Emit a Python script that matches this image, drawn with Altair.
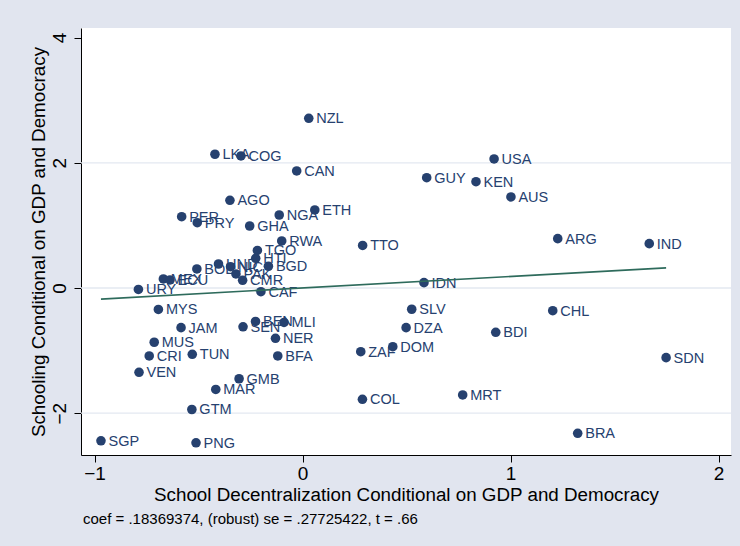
import altair as alt
import pandas as pd

# Country codes and added-variable residuals
countries = ["NZL", "LKA", "COG", "CAN", "USA", "GUY", "KEN", "AUS", "AGO", "PER",
             "PRY", "NGA", "ETH", "GHA", "RWA", "TTO", "ARG", "IND", "TGO", "HTI",
             "BGD", "BOL", "HND", "NIC", "PAK", "CMR", "MEX", "ECU", "URY", "CAF",
             "IDN", "MYS", "JAM", "MUS", "CRI", "TUN", "VEN", "SEN", "BEN", "MLI",
             "NER", "BFA", "GMB", "MAR", "GTM", "SGP", "PNG", "SLV", "DZA", "DOM",
             "ZAF", "BDI", "CHL", "SDN", "COL", "MRT", "BRA"]
decentralization = [0.030, -0.421, -0.296, -0.028, 0.921, 0.597, 0.834, 1.002, -0.349, -0.581,
                    -0.506, -0.112, 0.059, -0.254, -0.100, 0.289, 1.227, 1.667, -0.217, -0.225,
                    -0.164, -0.508, -0.404, -0.346, -0.320, -0.288, -0.669, -0.637, -0.789, -0.200,
                    0.584, -0.693, -0.584, -0.713, -0.737, -0.530, -0.786, -0.286, -0.226, -0.089,
                    -0.130, -0.119, -0.305, -0.417, -0.532, -0.969, -0.512, 0.525, 0.498, 0.434,
                    0.280, 0.929, 1.203, 1.748, 0.288, 0.770, 1.323]
schooling = [2.711, 2.136, 2.109, 1.869, 2.061, 1.762, 1.698, 1.454, 1.401, 1.139,
             1.043, 1.166, 1.246, 0.990, 0.751, 0.679, 0.788, 0.708, 0.599, 0.474,
             0.347, 0.304, 0.383, 0.340, 0.224, 0.123, 0.144, 0.128, -0.024, -0.059,
             0.085, -0.343, -0.634, -0.867, -1.086, -1.059, -1.347, -0.620, -0.535, -0.551,
             -0.804, -1.086, -1.450, -1.621, -1.941, -2.441, -2.473, -0.340, -0.634, -0.938,
             -1.018, -0.708, -0.363, -1.113, -1.778, -1.709, -2.321]

coef = 0.18369374
note_text = "coef = .18369374, (robust) se = .27725422, t = .66"

x_ticks = [-1, 0, 1, 2]
y_ticks = [-2, 0, 2, 4]
grid_values = [-2, 0, 2]

X_DOMAIN = [-1.065, 2.060]
Y_DOMAIN = [-2.668, 4.153]

FONT = "Liberation Sans"
NAVY = "#26416f"
FIT = "#2e6b5c"
BG = "#e1e5ef"

pts = pd.DataFrame({"country": countries, "x": decentralization, "y": schooling})
xmin, xmax = min(decentralization), max(decentralization)
fit = pd.DataFrame({"x": [xmin, xmax], "y": [coef * xmin, coef * xmax]})
grid = pd.DataFrame({"g": grid_values})

xscale = alt.Scale(domain=X_DOMAIN, nice=False, zero=False)
yscale = alt.Scale(domain=Y_DOMAIN, nice=False, zero=False)

MINUS_EXPR = "replace(format(datum.value, 'd'), '-', '\u2212')"

xaxis = alt.Axis(values=x_ticks, title="School Decentralization Conditional on GDP and Democracy",
                 grid=False, labelFontSize=19, titleFontSize=18.8, labelFont=FONT, titleFont=FONT,
                 titleFontWeight="normal", labelColor="black", titleColor="black",
                 domainColor="black", tickColor="black", tickSize=7, labelPadding=2,
                 titlePadding=2, labelExpr=MINUS_EXPR)
yaxis = alt.Axis(values=y_ticks, title="Schooling Conditional on GDP and Democracy",
                 grid=False, labelFontSize=19, titleFontSize=18.8, labelFont=FONT, titleFont=FONT,
                 titleFontWeight="normal", labelColor="black", titleColor="black",
                 domainColor="black", tickColor="black", tickSize=7, labelAngle=270,
                 labelAlign="center", labelBaseline="bottom", labelPadding=5, titlePadding=2,
                 labelExpr=MINUS_EXPR)

gridlayer = alt.Chart(grid).mark_rule(color="#e3e8f1", strokeWidth=1.3).encode(
    y=alt.Y("g:Q", scale=yscale, axis=yaxis)
)

points = alt.Chart(pts).mark_circle(size=92, color=NAVY, opacity=1).encode(
    x=alt.X("x:Q", scale=xscale, axis=xaxis),
    y=alt.Y("y:Q", scale=yscale, axis=yaxis),
)

labels = alt.Chart(pts).mark_text(align="left", baseline="middle", dx=7.5, dy=1,
                                  fontSize=14.5, font=FONT, color=NAVY).encode(
    x=alt.X("x:Q", scale=xscale),
    y=alt.Y("y:Q", scale=yscale),
    text="country:N",
)

fitline = alt.Chart(fit).mark_line(color=FIT, strokeWidth=1.6).encode(
    x=alt.X("x:Q", scale=xscale),
    y=alt.Y("y:Q", scale=yscale),
)

chart = alt.layer(gridlayer, points, labels, fitline).properties(
    width=650,
    height=427,
    autosize=alt.AutoSizeParams(type="none"),
    padding={"left": 81, "top": 28, "right": 9, "bottom": 91},
    background=BG,
    title=alt.TitleParams(text=note_text, orient="bottom", anchor="start", frame="group",
                          fontSize=15, font=FONT, fontWeight="normal", color="black",
                          offset=8, dx=2),
).configure_view(fill="white", stroke=None)

chart.save("out.html", embed_options={"renderer": "svg", "actions": False})
